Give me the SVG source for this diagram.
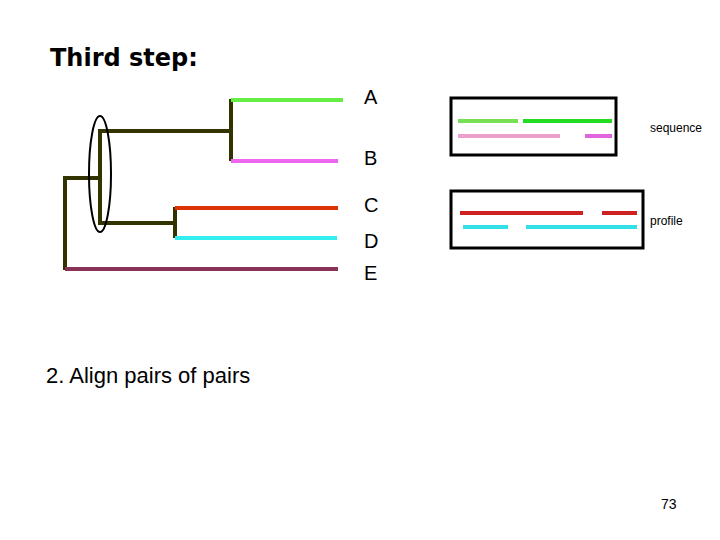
<svg xmlns="http://www.w3.org/2000/svg" width="720" height="540" viewBox="0 0 720 540">
<style>
.t{font-family:"Liberation Sans",Arial,sans-serif;fill:#000}
.tr{stroke:#333300;stroke-width:4;fill:none}
.l{stroke-width:4;fill:none}
.box{fill:#fff;stroke:#000;stroke-width:3}
</style>
<rect width="720" height="540" fill="#fff"/>
<text x="50" y="66" font-family="'Comic Sans MS','DejaVu Sans',sans-serif" font-size="24" font-weight="bold">Third step:</text>
<g id="tree">
<polyline class="tr" points="231,99 231,161"/>
<polyline class="tr" points="231,131 100,131 100,223 175,223"/>
<polyline class="tr" points="175,207 175,238"/>
<polyline class="tr" points="100,178 65,178 65,270"/>
<ellipse cx="100" cy="174" rx="11" ry="58" fill="none" stroke="#000" stroke-width="2"/>
</g>
<g id="leaves">
<line class="l" x1="231" y1="100" x2="343" y2="100" stroke="#66ee44"/>
<line class="l" x1="231" y1="161" x2="338" y2="161" stroke="#ee66ee"/>
<line class="l" x1="175" y1="208" x2="338" y2="208" stroke="#dd3300"/>
<line class="l" x1="175" y1="238" x2="337" y2="238" stroke="#33eeee"/>
<line class="l" x1="65" y1="269" x2="338" y2="269" stroke="#883355"/>
</g>
<g class="t" font-size="20">
<text x="364" y="104">A</text>
<text x="364" y="165">B</text>
<text x="364" y="212">C</text>
<text x="364" y="248">D</text>
<text x="364" y="280">E</text>
</g>
<g id="sequence">
<rect class="box" x="451" y="98" width="165" height="57"/>
<line class="l" x1="458" y1="121" x2="518" y2="121" stroke="#77e055"/>
<line class="l" x1="523" y1="121" x2="612" y2="121" stroke="#22dd22"/>
<line class="l" x1="458" y1="136" x2="560" y2="136" stroke="#eea0cc"/>
<line class="l" x1="585" y1="136" x2="612" y2="136" stroke="#e066e0"/>
<text class="t" x="650" y="132" font-size="12">sequence</text>
</g>
<g id="profile">
<rect class="box" x="451" y="191" width="192" height="57"/>
<line class="l" x1="460" y1="213" x2="583" y2="213" stroke="#cc2222"/>
<line class="l" x1="602" y1="213" x2="637" y2="213" stroke="#cc2222"/>
<line class="l" x1="463" y1="227" x2="508" y2="227" stroke="#33e0e8"/>
<line class="l" x1="526" y1="227" x2="637" y2="227" stroke="#33e0e8"/>
<text class="t" x="650" y="225" font-size="12">profile</text>
</g>
<text class="t" x="46" y="383" font-size="22">2. Align pairs of pairs</text>
<text class="t" x="661" y="509" font-size="14">73</text>
</svg>
